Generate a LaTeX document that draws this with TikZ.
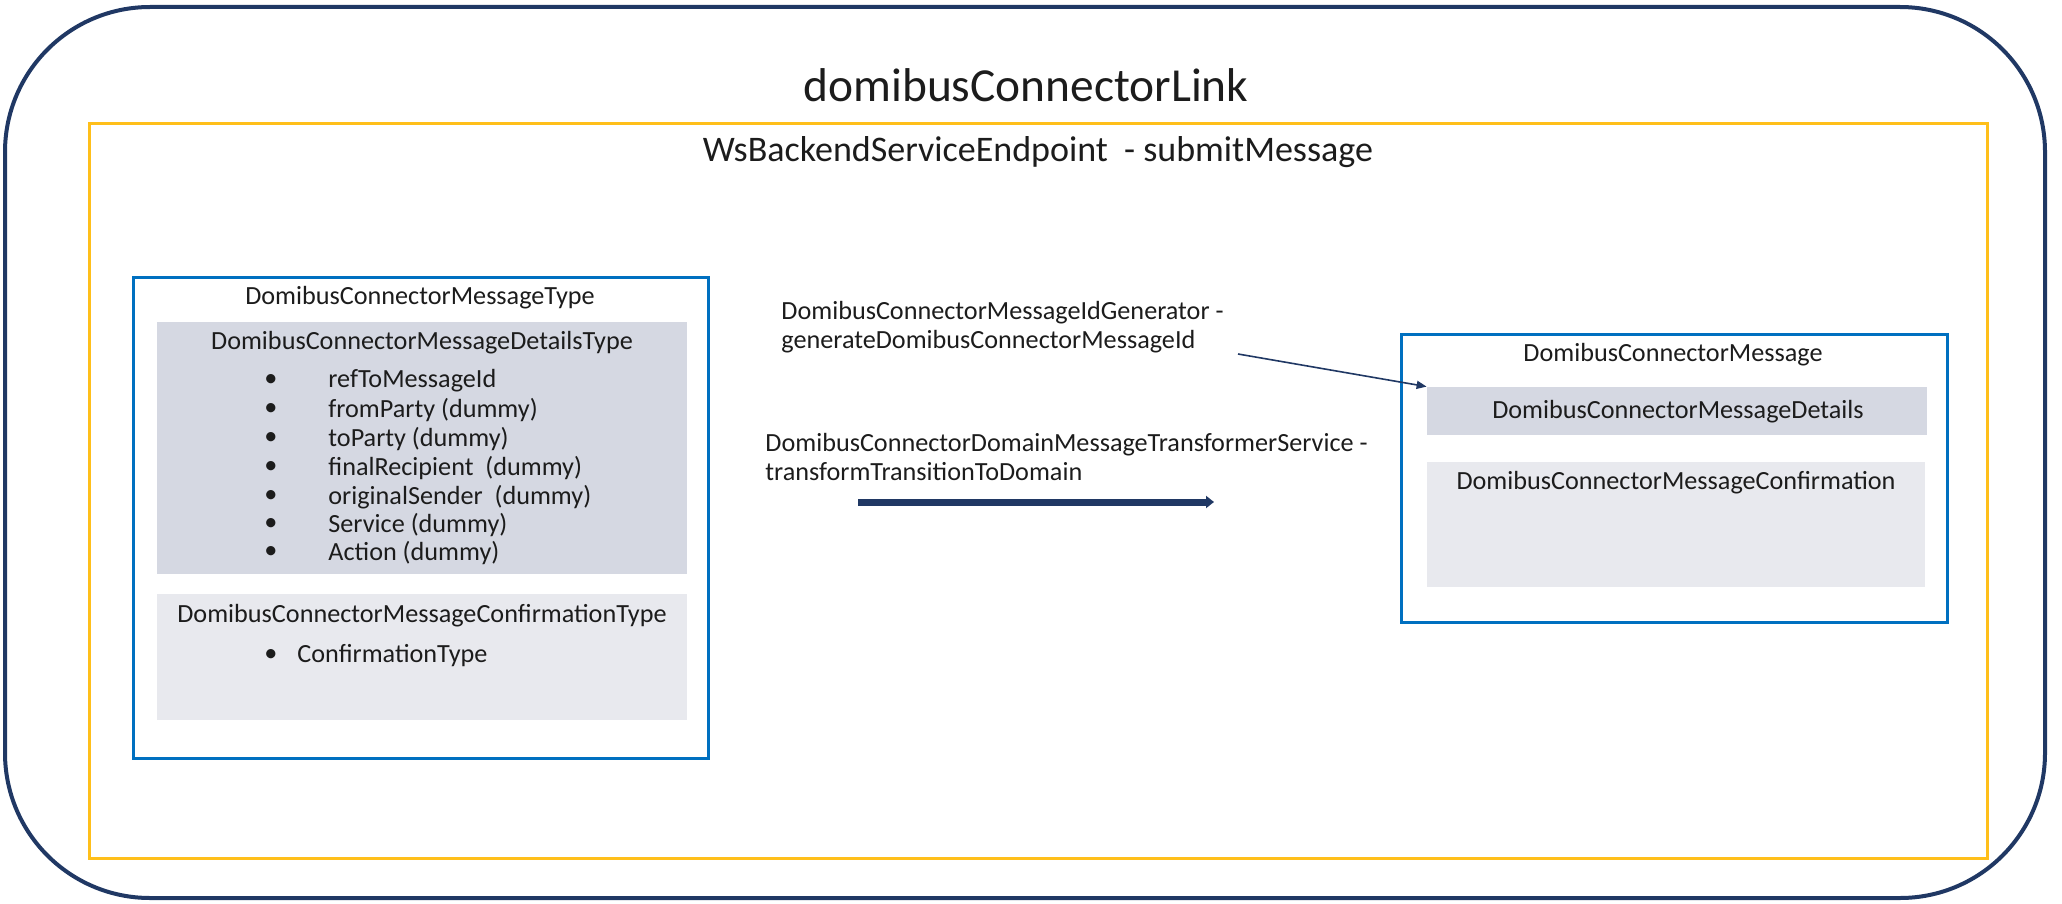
\documentclass[tikz,border=0pt]{standalone}
\usepackage{fontspec}
\setmainfont{Carlito}
\usetikzlibrary{arrows.meta}
\definecolor{navy}{HTML}{203864}
\definecolor{amber}{HTML}{FFBF1A}
\definecolor{oblue}{HTML}{0070C0}
\definecolor{greyA}{HTML}{D5D8E2}
\definecolor{greyB}{HTML}{E8E9EE}
\definecolor{ink}{HTML}{1C1C1C}
\begin{document}
\begin{tikzpicture}[x=0.5pt,y=-0.5pt,
  txt/.style={font=\fontsize{13.1}{14.5}\selectfont, text=ink, inner sep=0pt},
  panel/.style={draw=oblue, line width=1.5pt, fill=white, inner sep=0pt},
  shade1/.style={fill=greyA, draw=none, inner sep=0pt},
  shade2/.style={fill=greyB, draw=none, inner sep=0pt}]
\useasboundingbox (0,0) rectangle (2062,904);

% outer container and service frame
\node[draw=navy, line width=2pt, rounded corners=72.5pt, minimum width=1020pt, minimum height=445.5pt, inner sep=0pt] (link) at (1025,452.5) {};
\node[draw=amber, line width=1.5pt, minimum width=949pt, minimum height=367pt, inner sep=0pt] (endpoint) at (1038,491) {};
\node[font=\fontsize{23.7}{26}\selectfont, text=ink, inner sep=0pt] (linktitle) at (1026,85) {domibusConnectorLink};
\node[font=\fontsize{18}{20}\selectfont, text=ink, inner sep=0pt] (eptitle) at (1038,152) {WsBackendServiceEndpoint\ \ - submitMessage};

% transport message type (left)
\node[panel, minimum width=287.5pt, minimum height=240.5pt] (msgtype) at (420.5,517.5) {};
\node[shade1, minimum width=265pt, minimum height=126pt] (dettype) at (422,448) {};
\node[shade2, minimum width=265pt, minimum height=63pt] (conftype) at (422,657) {};
\node[txt] (msgtypeL) at (420,298) {DomibusConnectorMessageType};
\node[txt] (dettypeL) at (422,343) {DomibusConnectorMessageDetailsType};
\foreach \y/\t [count=\i] in {381/refToMessageId, 410/fromParty (dummy), 439/toParty (dummy),
   468/finalRecipient\ \ (dummy), 497/originalSender\ \ (dummy), 525/Service (dummy), 553/Action (dummy)} {
  \node[txt] (bul\i) at (271,\y) {•};
  \node[txt, anchor=west] (item\i) at (328,\y) {\t};
}
\node[txt] (conftypeL) at (422,616) {DomibusConnectorMessageConfirmationType};
\node[txt] (bulc) at (271,656) {•};
\node[txt, anchor=west] (itemc) at (297,656) {ConfirmationType};

% domain message (right)
\node[panel, minimum width=273pt, minimum height=144pt] (msg) at (1674,478) {};
\node[shade1, minimum width=250pt, minimum height=24pt] (det) at (1677,411) {};
\node[shade2, minimum width=249pt, minimum height=62.5pt] (conf) at (1676,524.5) {};
\node[txt] (msgL) at (1673,355) {DomibusConnectorMessage};
\node[txt] (detL) at (1678,412) {DomibusConnectorMessageDetails};
\node[txt] (confL) at (1676,483) {DomibusConnectorMessageConfirmation};

% services in between
\node[txt, align=left, anchor=west] (idgen) at (781,327.5) {DomibusConnectorMessageIdGenerator -\\generateDomibusConnectorMessageId};
\node[txt, align=left, anchor=west] (transf) at (765,456.5) {DomibusConnectorDomainMessageTransformerService -\\transformTransitionToDomain};

\coordinate (genout) at (1238,354);
\draw[navy, line width=0.8pt, -{Triangle[length=5pt,width=4pt]}] (genout) -- (det.north west);

\coordinate (tstart) at (858,502);
\coordinate (tend) at (1214,502);
\draw[navy, line width=3.5pt, -{Triangle[length=4pt,width=6pt]}] (tstart) -- (tend);
\end{tikzpicture}
\end{document}
